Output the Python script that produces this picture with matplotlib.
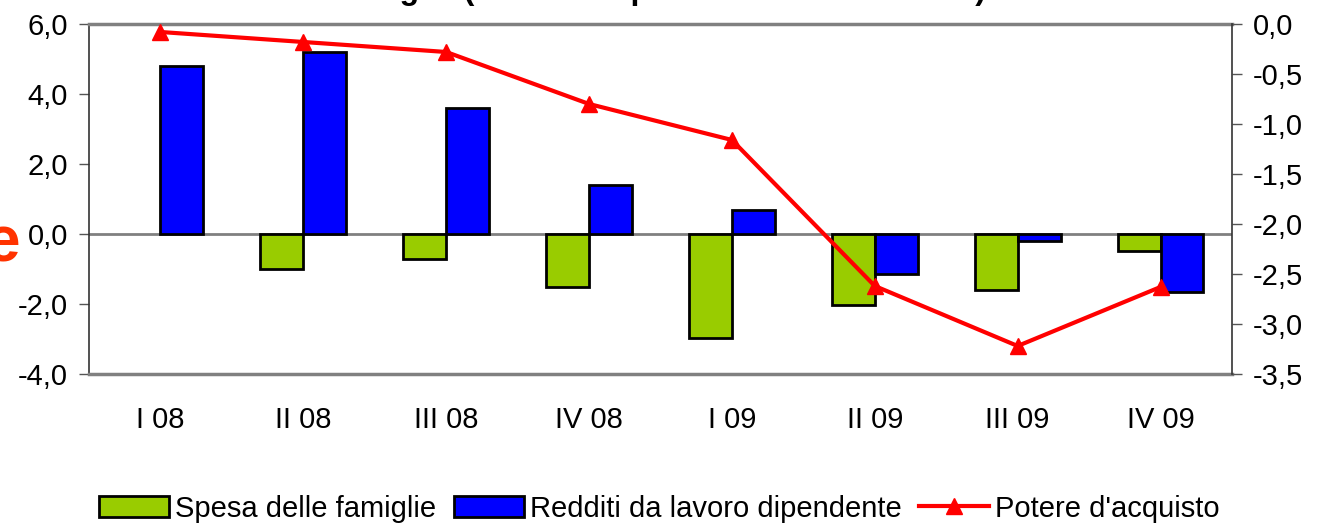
import numpy as np
import matplotlib
matplotlib.use("Agg")
import matplotlib.pyplot as plt
from matplotlib.ticker import FuncFormatter, MultipleLocator
from matplotlib.lines import Line2D
from matplotlib.patches import Patch

plt.rcParams['font.family'] = ['Liberation Sans', 'DejaVu Sans']

# dati
trimestri = ['I 08', 'II 08', 'III 08', 'IV 08', 'I 09', 'II 09', 'III 09', 'IV 09']
spesa = [np.nan, -1.0, -0.71, -1.51, -2.98, -2.02, -1.6, -0.48]
redditi = [4.81, 5.19, 3.59, 1.40, 0.68, -1.14, -0.2, -1.65]
potere = [-0.08, -0.18, -0.28, -0.80, -1.16, -2.62, -3.22, -2.63]

verde = '#99CC00'
blu = '#0000FF'
rosso = '#FF0000'
fs = 21

virgola = FuncFormatter(lambda v, p: ('%.1f' % v).replace('.', ','))

fig = plt.figure(figsize=(13.19, 5.26), dpi=100)
ax = fig.add_axes([0.0675, 0.289, 0.8665, 0.6654])

x = np.arange(len(trimestri))
w = 0.3
ax.bar(x, spesa, width=-w, align='edge', color=verde, edgecolor='black', linewidth=2, zorder=3)
ax.bar(x, redditi, width=w, align='edge', color=blu, edgecolor='black', linewidth=2, zorder=3)
ax.axhline(0, color='#808080', linewidth=2, zorder=2)

ax.set_xlim(-0.5, len(trimestri) - 0.5)
ax.set_ylim(-4, 6)
ax.yaxis.set_major_locator(MultipleLocator(2))
ax.yaxis.set_major_formatter(virgola)
ax.set_xticks(x)
ax.set_xticklabels(trimestri)
ax.tick_params(axis='x', length=0, pad=23, labelsize=fs)
ax.tick_params(axis='y', direction='out', length=7, width=1, color='#555555', labelsize=fs, pad=8)

for s in ['top', 'bottom']:
    ax.spines[s].set_color('#808080')
    ax.spines[s].set_linewidth(2.5)
ax.spines['left'].set_color('#333333')
ax.spines['left'].set_linewidth(1.2)
ax.spines['right'].set_visible(False)

ax2 = ax.twinx()
ax2.plot(x, potere, color=rosso, linewidth=3, marker='^', markersize=11, zorder=5)
ax2.set_ylim(-3.5, 0)
ax2.yaxis.set_major_locator(MultipleLocator(0.5))
ax2.yaxis.set_major_formatter(virgola)
ax2.tick_params(axis='y', direction='out', length=7, width=1, color='#555555', labelsize=fs, pad=8)
for s in ['top', 'bottom', 'left']:
    ax2.spines[s].set_visible(False)
ax2.spines['right'].set_color('#333333')
ax2.spines['right'].set_linewidth(1.2)

# titolo tagliato in alto (se ne vede solo il fondo)
fig.text(0.5, 1 + 1 / 526, "Spesa, redditi da lavoro e potere d'acquisto delle\nfamiglie (variazioni percentuali tendenziali)",
         ha='center', va='baseline', fontsize=23, fontweight='bold', linespacing=1.1)
fig.text(-0.012, 1 - 262 / 526, 'e', color='#FF3300', fontsize=46, fontweight='bold', va='baseline')

handles = [Patch(facecolor=verde, edgecolor='black', linewidth=2),
           Patch(facecolor=blu, edgecolor='black', linewidth=2),
           Line2D([], [], color=rosso, linewidth=3, marker='^', markersize=11)]
fig.legend(handles, ['Spesa delle famiglie', 'Redditi da lavoro dipendente', "Potere d'acquisto"],
           loc='center', bbox_to_anchor=(0.5, 0.033), ncol=3, frameon=False, fontsize=fs,
           handlelength=2.4, handleheight=0.7, handletextpad=0.2, columnspacing=0.6)

fig.savefig('out.png', dpi=100)
